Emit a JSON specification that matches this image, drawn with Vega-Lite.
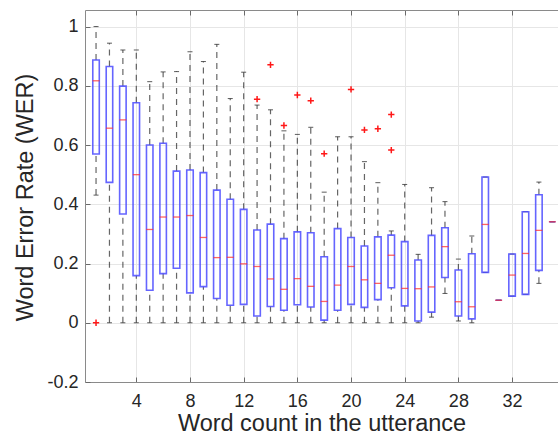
{
  "$schema": "https://vega.github.io/schema/vega-lite/v6.json",
  "width": 473,
  "height": 372,
  "autosize": {"type": "none"},
  "padding": {"left": 85, "top": 10, "right": 0, "bottom": 53},
  "background": "white",
  "config": {
    "font": "Liberation Sans",
    "view": {"stroke": null},
    "axis": {
      "labelFont": "Liberation Sans",
      "labelFontSize": 18,
      "labelColor": "#262626",
      "titleFont": "Liberation Sans",
      "titleFontSize": 23.5,
      "titleFontWeight": "normal",
      "titleColor": "#262626",
      "domainColor": "#8a8a8a",
      "tickColor": "#6a6a6a",
      "tickSize": -5,
      "gridColor": "#e6e6e6",
      "gridWidth": 1
    }
  },
  "datasets": {
    "boxes": [
      {"x": 1, "lo": 0.431, "q1": 0.570, "med": 0.817, "q3": 0.887, "hi": 1.0},
      {"x": 2, "lo": 0, "q1": 0.474, "med": 0.657, "q3": 0.865, "hi": 0.944},
      {"x": 3, "lo": 0, "q1": 0.367, "med": 0.685, "q3": 0.799, "hi": 0.921},
      {"x": 4, "lo": 0, "q1": 0.159, "med": 0.500, "q3": 0.743, "hi": 0.921},
      {"x": 5, "lo": 0, "q1": 0.110, "med": 0.315, "q3": 0.600, "hi": 0.814},
      {"x": 6, "lo": 0, "q1": 0.166, "med": 0.357, "q3": 0.606, "hi": 0.847},
      {"x": 7, "lo": 0, "q1": 0.184, "med": 0.357, "q3": 0.512, "hi": 0.848},
      {"x": 8, "lo": 0, "q1": 0.101, "med": 0.362, "q3": 0.516, "hi": 0.915},
      {"x": 9, "lo": 0, "q1": 0.122, "med": 0.288, "q3": 0.507, "hi": 0.882},
      {"x": 10, "lo": 0, "q1": 0.082, "med": 0.220, "q3": 0.448, "hi": 0.940},
      {"x": 11, "lo": 0, "q1": 0.059, "med": 0.221, "q3": 0.417, "hi": 0.757},
      {"x": 12, "lo": 0, "q1": 0.062, "med": 0.199, "q3": 0.383, "hi": 0.846},
      {"x": 13, "lo": 0, "q1": 0.023, "med": 0.190, "q3": 0.313, "hi": 0.735},
      {"x": 14, "lo": 0, "q1": 0.055, "med": 0.148, "q3": 0.333, "hi": 0.719},
      {"x": 15, "lo": 0, "q1": 0.042, "med": 0.113, "q3": 0.284, "hi": 0.648},
      {"x": 16, "lo": 0, "q1": 0.061, "med": 0.149, "q3": 0.307, "hi": 0.636},
      {"x": 17, "lo": 0, "q1": 0.053, "med": 0.123, "q3": 0.304, "hi": 0.660},
      {"x": 18, "lo": 0, "q1": 0.009, "med": 0.072, "q3": 0.223, "hi": 0.441},
      {"x": 19, "lo": 0, "q1": 0.042, "med": 0.127, "q3": 0.318, "hi": 0.628},
      {"x": 20, "lo": 0, "q1": 0.062, "med": 0.190, "q3": 0.288, "hi": 0.628},
      {"x": 21, "lo": 0, "q1": 0.052, "med": 0.145, "q3": 0.259, "hi": 0.544},
      {"x": 22, "lo": 0, "q1": 0.078, "med": 0.133, "q3": 0.290, "hi": 0.473},
      {"x": 23, "lo": 0, "q1": 0.118, "med": 0.228, "q3": 0.296, "hi": 0.310},
      {"x": 24, "lo": 0, "q1": 0.057, "med": 0.116, "q3": 0.274, "hi": 0.467},
      {"x": 25, "lo": 0, "q1": 0.006, "med": 0.115, "q3": 0.212, "hi": 0.231},
      {"x": 26, "lo": 0.019, "q1": 0.036, "med": 0.121, "q3": 0.295, "hi": 0.456},
      {"x": 27, "lo": 0.099, "q1": 0.153, "med": 0.257, "q3": 0.321, "hi": 0.409},
      {"x": 28, "lo": 0.006, "q1": 0.023, "med": 0.071, "q3": 0.178, "hi": 0.215},
      {"x": 29, "lo": 0, "q1": 0.013, "med": 0.054, "q3": 0.233, "hi": 0.293},
      {"x": 30, "lo": 0.170, "q1": 0.170, "med": 0.332, "q3": 0.492, "hi": 0.492},
      {"x": 31, "lo": 0.076, "q1": 0.076, "med": 0.076, "q3": 0.076, "hi": 0.076},
      {"x": 32, "lo": 0.090, "q1": 0.090, "med": 0.161, "q3": 0.232, "hi": 0.232},
      {"x": 33, "lo": 0.096, "q1": 0.096, "med": 0.234, "q3": 0.375, "hi": 0.375},
      {"x": 34, "lo": 0.133, "q1": 0.177, "med": 0.312, "q3": 0.432, "hi": 0.475},
      {"x": 35, "lo": 0.341, "q1": 0.341, "med": 0.341, "q3": 0.341, "hi": 0.341}
    ],
    "outliers": [
      {"x": 1, "v": 0},
      {"x": 13, "v": 0.755},
      {"x": 14, "v": 0.871},
      {"x": 15, "v": 0.666},
      {"x": 16, "v": 0.769},
      {"x": 17, "v": 0.750},
      {"x": 18, "v": 0.571},
      {"x": 20, "v": 0.788},
      {"x": 21, "v": 0.651},
      {"x": 22, "v": 0.655},
      {"x": 23, "v": 0.703},
      {"x": 23, "v": 0.583}
    ]
  },
  "layer": [
    {
      "data": {"name": "boxes"},
      "encoding": {
        "x": {
          "field": "x",
          "type": "quantitative",
          "scale": {"domain": [0.55, 35.05], "nice": false, "zero": false},
          "axis": {
            "orient": "bottom",
            "values": [4, 8, 12, 16, 20, 24, 28, 32],
            "format": "d",
            "grid": true,
            "labelPadding": 15,
            "title": "Word count in the utterance",
            "titleY": 48,
            "titleBaseline": "alphabetic"
          }
        }
      },
      "layer": [
        {
          "mark": {"type": "rule", "strokeDash": [6, 5], "color": "#000000", "opacity": 0.6, "strokeWidth": 1.2, "clip": true},
          "encoding": {
            "y": {
              "field": "q3",
              "type": "quantitative",
              "scale": {"domain": [-0.2, 1.056], "nice": false, "zero": false},
              "axis": {
                "orient": "left",
                "values": [-0.2, 0, 0.2, 0.4, 0.6, 0.8, 1],
                "format": "~g",
                "labelExpr": "replace(datum.label, '−', '-')",
                "grid": true,
                "labelPadding": 12,
                "title": "Word Error Rate (WER)",
                "titleX": -53,
                "titleY": 187,
                "titleAngle": -90,
                "titleBaseline": "alphabetic"
              }
            },
            "y2": {"field": "hi"}
          }
        },
        {
          "mark": {"type": "rule", "strokeDash": [6, 5], "color": "#000000", "opacity": 0.6, "strokeWidth": 1.2, "clip": true},
          "encoding": {
            "y": {"field": "lo", "type": "quantitative"},
            "y2": {"field": "q1"}
          }
        },
        {
          "mark": {"type": "tick", "orient": "horizontal", "size": 5, "thickness": 1, "color": "#333333", "opacity": 0.8, "clip": true},
          "encoding": {
            "y": {"field": "hi", "type": "quantitative"}
          }
        },
        {
          "mark": {"type": "tick", "orient": "horizontal", "size": 5, "thickness": 1, "color": "#333333", "opacity": 0.8, "clip": true},
          "encoding": {
            "y": {"field": "lo", "type": "quantitative"}
          }
        },
        {
          "mark": {"type": "bar", "size": 6.5, "fill": "transparent", "stroke": "#4a4aff", "strokeWidth": 1.6, "strokeOpacity": 0.85, "clip": true},
          "encoding": {
            "y": {"field": "q1", "type": "quantitative"},
            "y2": {"field": "q3"}
          }
        },
        {
          "mark": {"type": "tick", "orient": "horizontal", "size": 7, "thickness": 1.3, "color": "#ff3030", "opacity": 0.75, "clip": true},
          "encoding": {
            "y": {"field": "med", "type": "quantitative"}
          }
        }
      ]
    },
    {
      "data": {"name": "outliers"},
      "mark": {"type": "point", "shape": "M-1,0L1,0M0,-1L0,1", "size": 40, "filled": false, "stroke": "#ff0000", "strokeWidth": 1.5, "opacity": 0.9, "clip": true},
      "encoding": {
        "x": {
          "field": "x",
          "type": "quantitative",
          "axis": {
            "orient": "top",
            "values": [4, 8, 12, 16, 20, 24, 28, 32],
            "labels": false,
            "grid": false,
            "title": null
          }
        },
        "y": {"field": "v", "type": "quantitative"}
      }
    }
  ],
  "resolve": {"axis": {"x": "independent"}}
}
